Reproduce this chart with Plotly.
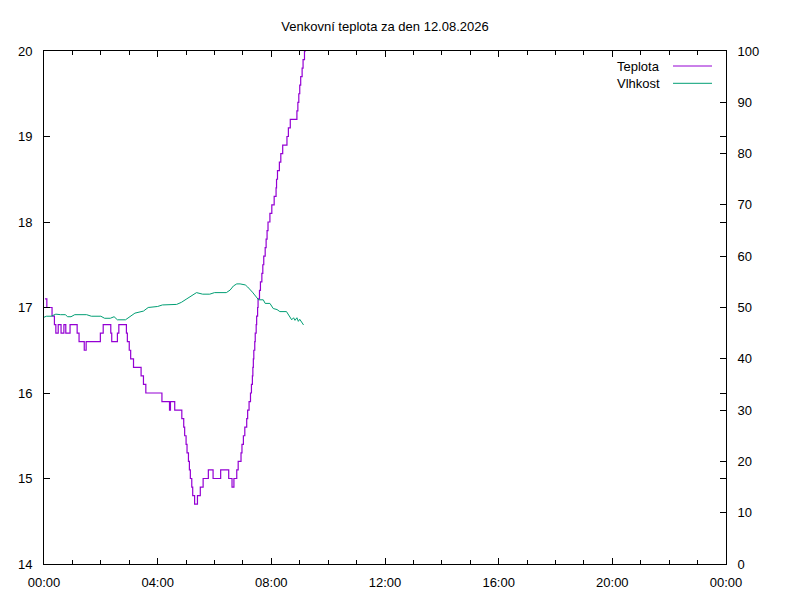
import pandas as pd
import plotly.graph_objects as go


# ─────────────────────────────────────────────────────────────────────────────
# DATA — hodnoty (změnové body)
# ─────────────────────────────────────────────────────────────────────────────

DAY = "2026-08-12"
TITLE = "Venkovní teplota za den 12.08.2026"

teplota_cas = [
    "00:02", "00:06", "00:17", "00:22", "00:25", "00:30", "00:36", "00:42", "00:46", "00:55",
    "01:10", "01:14", "01:25", "01:29", "01:59", "02:05", "02:21", "02:23", "02:35", "02:38",
    "02:54", "02:56", "03:00", "03:03", "03:09", "03:25", "03:30", "03:35", "04:09", "04:25",
    "04:27", "04:36", "04:51", "04:55", "04:57", "05:00", "05:02", "05:05", "05:07", "05:09",
    "05:12", "05:14", "05:18", "05:24", "05:30", "05:36", "05:47", "05:57", "06:13", "06:30",
    "06:37", "06:41", "06:47", "06:50", "06:56", "06:58", "07:01", "07:04", "07:08", "07:10",
    "07:13", "07:16", "07:18", "07:20", "07:21", "07:22", "07:23", "07:25", "07:26", "07:28",
    "07:29", "07:31", "07:32", "07:35", "07:37", "07:40", "07:42", "07:44", "07:47", "07:49",
    "07:51", "07:53", "07:57", "08:01", "08:06", "08:10", "08:11", "08:13", "08:17", "08:20",
    "08:24", "08:33", "08:36", "08:40", "08:54", "08:56", "08:58", "09:00", "09:02", "09:05",
    "09:07", "09:10", "09:12",
]
teplota = [
    17.1, 17.0, 16.9, 16.8, 16.7, 16.8, 16.7, 16.8, 16.7, 16.8,
    16.7, 16.6, 16.5, 16.6, 16.7, 16.8, 16.7, 16.6, 16.7, 16.8,
    16.7, 16.6, 16.5, 16.4, 16.3, 16.2, 16.1, 16.0, 15.9, 15.8,
    15.9, 15.8, 15.7, 15.6, 15.5, 15.4, 15.3, 15.2, 15.1, 15.0,
    14.9, 14.8, 14.7, 14.8, 14.9, 15.0, 15.1, 15.0, 15.1, 15.0,
    14.9, 15.0, 15.1, 15.2, 15.3, 15.4, 15.5, 15.6, 15.7, 15.8,
    15.9, 16.0, 16.1, 16.2, 16.3, 16.4, 16.5, 16.6, 16.7, 16.8,
    16.9, 17.0, 17.1, 17.2, 17.3, 17.4, 17.5, 17.6, 17.7, 17.8,
    17.9, 18.0, 18.1, 18.2, 18.3, 18.4, 18.5, 18.6, 18.7, 18.8,
    18.9, 19.0, 19.1, 19.2, 19.3, 19.4, 19.5, 19.6, 19.7, 19.8,
    19.9, 20.0, 20.1,
]

vlhkost_cas = [
    "00:00", "00:05", "00:15", "00:25", "00:35", "00:45", "00:50", "00:57", "01:05", "01:30",
    "01:40", "02:00", "02:08", "02:20", "02:28", "02:35", "02:52", "03:05", "03:12", "03:30",
    "03:40", "04:00", "04:10", "04:40", "04:50", "05:00", "05:08", "05:15", "05:22", "05:35",
    "05:50", "06:00", "06:25", "06:33", "06:40", "06:47", "06:54", "07:05", "07:10", "07:20",
    "07:29", "07:33", "07:43", "07:47", "07:57", "08:04", "08:12", "08:18", "08:32", "08:36",
    "08:43", "08:47", "08:50", "08:54", "08:57", "09:00", "09:04", "09:08",
]
vlhkost = [
    48.1, 48.3, 48.3, 48.7, 48.6, 48.6, 48.2, 48.2, 48.6, 48.6,
    48.3, 48.3, 47.9, 47.9, 48.2, 47.6, 47.6, 48.5, 48.9, 49.3,
    50.0, 50.2, 50.5, 50.6, 51.0, 51.6, 52.1, 52.6, 52.9, 52.6,
    52.6, 52.9, 52.9, 53.4, 54.2, 54.6, 54.6, 54.4, 54.0, 53.0,
    52.1, 51.5, 51.5, 50.8, 50.8, 49.8, 49.6, 49.2, 49.2, 48.7,
    47.6, 48.0, 47.5, 48.0, 47.3, 47.7, 47.2, 46.6,
]

y_ticks = [14, 15, 16, 17, 18, 19, 20]
y2_ticks = [0, 10, 20, 30, 40, 50, 60, 70, 80, 90, 100]

FIALOVA = "#9400D3"
ZELENA = "#009E73"
FONT = "Liberation Sans, Arial, sans-serif"
FS = 13

# stránka má okraj 8 px (body margin), proto je figura o 8 px menší
W, H = 792, 592


def _times(hhmm):
    return pd.to_datetime([f"{DAY} {t}" for t in hhmm])


# ─────────────────────────────────────────────────────────────────────────────
# FIGURE
# ─────────────────────────────────────────────────────────────────────────────

fig = go.Figure()
fig.add_trace(go.Scatter(
    x=_times(teplota_cas), y=teplota, name="Teplota", mode="lines",
    line=dict(color=FIALOVA, width=1.2, shape="hv"), showlegend=False,
))
fig.add_trace(go.Scatter(
    x=_times(vlhkost_cas), y=vlhkost, name="Vlhkost", mode="lines", yaxis="y2",
    line=dict(color=ZELENA, width=1), showlegend=False,
))

axis_common = dict(
    showgrid=False, zeroline=False, showline=True, linecolor="black", linewidth=1,
    ticks="inside", ticklen=6, tickcolor="black", tickwidth=1, automargin=False,
    tickfont=dict(family=FONT, size=FS, color="black"),
)

fig.update_layout(
    width=W, height=H,
    paper_bgcolor="white", plot_bgcolor="white",
    margin=dict(l=36, r=74, t=43, b=36),
    font=dict(family=FONT, size=FS, color="black"),
    title=dict(text=TITLE, x=0.5, xref="paper", y=1 - 18 / H, yref="container",
               xanchor="center", yanchor="middle", font=dict(size=FS), automargin=False),
    xaxis=dict(
        **axis_common, type="date", mirror="ticks",
        range=[f"{DAY} 00:00", "2026-08-13 00:00"],
        tickformat="%H:%M", dtick=4 * 3600 * 1000, tick0=f"{DAY} 00:00",
        ticklabelstandoff=6,
        minor=dict(ticks="inside", ticklen=4, dtick=3600 * 1000, tickcolor="black"),
    ),
    yaxis=dict(
        **axis_common, mirror="ticks", range=[14, 20], tickvals=y_ticks,
        ticklabelstandoff=8,
    ),
    yaxis2=dict(
        **axis_common, overlaying="y", side="right", range=[0, 100], tickvals=y2_ticks,
        ticklabelstandoff=8,
    ),
)

# legenda po vzoru gnuplotu: text vpravo zarovnaný, vzorek čáry za ním
for i, (label, color) in enumerate([("Teplota", FIALOVA), ("Vlhkost", ZELENA)]):
    py = 66 + i * 17.3
    yp = (564 - py) / 513
    fig.add_annotation(x=(662 - 44) / 682, y=yp, xref="paper", yref="paper",
                       text=label, showarrow=False, xanchor="right", yanchor="middle",
                       font=dict(family=FONT, size=FS, color="black"))
    fig.add_shape(type="line", xref="paper", yref="paper",
                  x0=(673 - 44) / 682, x1=(712 - 44) / 682, y0=yp, y1=yp,
                  line=dict(color=color, width=1))

fig.write_html("out.html")
